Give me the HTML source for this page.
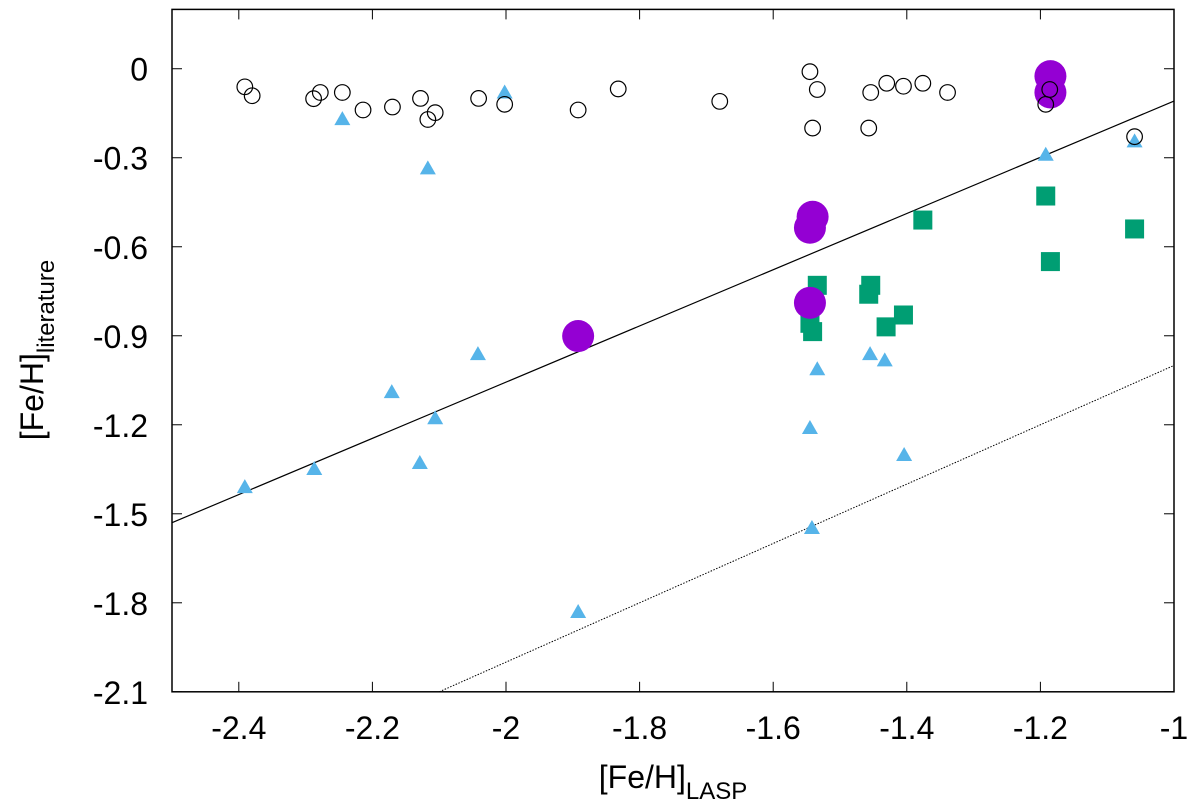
<!DOCTYPE html>
<html><head><meta charset="utf-8"><style>
html,body{margin:0;padding:0;background:#fff;}
svg{display:block;font-family:"Liberation Sans",Arial,sans-serif;}
</style></head><body>
<svg id="chart" width="1200" height="812" viewBox="0 0 1200 812"></svg>
<script>
const xTicks=[-2.4,-2.2,-2,-1.8,-1.6,-1.4,-1.2,-1];
const yTicks=[0,-0.3,-0.6,-0.9,-1.2,-1.5,-1.8,-2.1];
const openX=[-2.391,-2.380,-2.278,-2.288,-2.245,-2.214,-2.170,-2.128,-2.106,-2.117,-2.041,-2.002,-1.892,-1.832,-1.680,-1.545,-1.534,-1.541,-1.454,-1.430,-1.405,-1.376,-1.339,-1.457,-1.186,-1.192,-1.059];
const openY=[-0.061,-0.091,-0.080,-0.101,-0.080,-0.139,-0.129,-0.100,-0.148,-0.171,-0.100,-0.120,-0.139,-0.068,-0.110,-0.010,-0.070,-0.200,-0.080,-0.049,-0.059,-0.049,-0.080,-0.200,-0.070,-0.120,-0.229];
const purpleX=[-1.185,-1.185,-1.541,-1.545,-1.545,-1.892];
const purpleY=[-0.025,-0.080,-0.499,-0.536,-0.789,-0.901];
const triX=[-2.245,-2.117,-2.002,-1.192,-1.059,-1.534,-1.455,-1.433,-1.545,-1.404,-1.542,-1.892,-2.042,-2.171,-2.106,-2.129,-2.287,-2.391];
const triY=[-0.170,-0.336,-0.080,-0.290,-0.245,-1.013,-0.962,-0.983,-1.211,-1.302,-1.548,-1.831,-0.962,-1.090,-1.178,-1.329,-1.349,-1.410];
const sqX=[-1.192,-1.185,-1.059,-1.376,-1.534,-1.454,-1.457,-1.405,-1.431,-1.545,-1.541];
const sqY=[-0.429,-0.650,-0.540,-0.510,-0.730,-0.730,-0.760,-0.830,-0.870,-0.858,-0.886];
const fitLine=[[-2.5,-1.53],[-1,-0.109]];
const oneToOne=[[-2.1,-2.1],[-1,-1]];

const L=172,R=1174,T=9.4,B=691.8;
const xMin=-2.5,xMax=-1,yMin=-2.1,yMax=0.2;
const sx=v=>L+(v-xMin)/(xMax-xMin)*(R-L);
const sy=v=>B-(v-yMin)/(yMax-yMin)*(B-T);
const svg=document.getElementById('chart');
const NS='http://www.w3.org/2000/svg';
function mk(tag,attrs,parent){const e=document.createElementNS(NS,tag);for(const k in attrs)e.setAttribute(k,attrs[k]);(parent||svg).appendChild(e);return e;}

let g=mk('g',{});


mk('line',{x1:sx(fitLine[0][0]),y1:sy(fitLine[0][1]),x2:sx(fitLine[1][0]),y2:sy(fitLine[1][1]),stroke:'#000','stroke-width':1.2},g);
let g2=mk('g',{});


mk('line',{x1:sx(oneToOne[0][0]),y1:sy(oneToOne[0][1]),x2:sx(oneToOne[1][0]),y2:sy(oneToOne[1][1]),stroke:'#000','stroke-width':1,'stroke-dasharray':'1.5,1.5'},g2);

for(let i=0;i<sqX.length;i++){
  const e=mk('rect',{x:sx(sqX[i])-9.5,y:sy(sqY[i])-9.5,width:19,height:19,fill:'#009e73'});
  
  
}
for(let i=0;i<purpleX.length;i++){
  const e=mk('circle',{cx:sx(purpleX[i]),cy:sy(purpleY[i]),r:16,fill:'#9400d3'});
  
  
}
for(let i=0;i<triX.length;i++){
  const x=sx(triX[i]),y=sy(triY[i]);
  const e=mk('polygon',{points:`${x-8},${y+6} ${x+8},${y+6} ${x},${y-8}`,fill:'#56b4e9'});
  
  
}
for(let i=0;i<openX.length;i++){
  const e=mk('circle',{cx:sx(openX[i]),cy:sy(openY[i]),r:7.8,fill:'none',stroke:'#000','stroke-width':1.2});
  
  
}

const fr=mk('rect',{x:L,y:T,width:R-L,height:B-T,fill:'none',stroke:'#000','stroke-width':1.5});



for(const t of xTicks){
  const x=sx(t);
  mk('line',{x1:x,y1:B,x2:x,y2:B-10,stroke:'#000','stroke-width':1});
  mk('line',{x1:x,y1:T,x2:x,y2:T+10,stroke:'#000','stroke-width':1});
  const tx=mk('text',{x:x,y:739,'font-size':32,'text-anchor':'middle'});
  tx.textContent=String(t);
  
  
}
for(const t of yTicks){
  const y=sy(t);
  mk('line',{x1:L,y1:y,x2:L+10,y2:y,stroke:'#000','stroke-width':1});
  mk('line',{x1:R,y1:y,x2:R-10,y2:y,stroke:'#000','stroke-width':1});
  const tx=mk('text',{x:148,y:y+12,'font-size':32,'text-anchor':'end'});
  tx.textContent=t===0?'0':t.toFixed(1);
  
  
}
const xt=mk('text',{x:673,y:788,'font-size':32,'text-anchor':'middle'});
xt.innerHTML='[Fe/H]<tspan font-size="24" dy="11">LASP</tspan>';


const yt=mk('text',{x:0,y:0,'font-size':32,'text-anchor':'middle',transform:'translate(43,350) rotate(-90)'});
yt.innerHTML='[Fe/H]<tspan font-size="24" dy="11">literature</tspan>';


</script>
</body></html>
